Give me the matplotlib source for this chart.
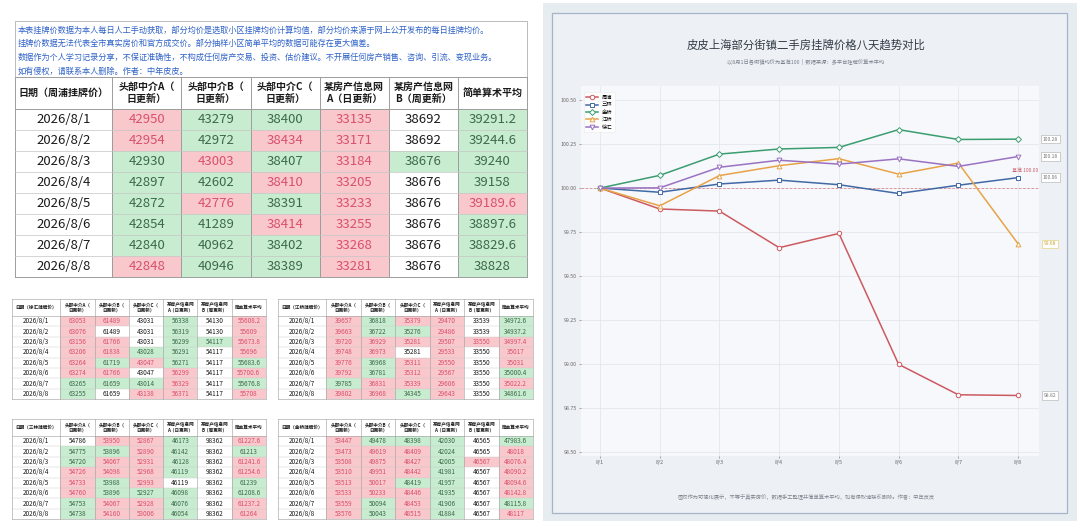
import matplotlib
matplotlib.use('Agg')
import matplotlib.pyplot as plt
from matplotlib.patches import Rectangle

plt.rcParams['font.family'] = ['Noto Sans CJK SC', 'DejaVu Sans']

# ---------------- data ----------------
dates = ['2026/8/1', '2026/8/2', '2026/8/3', '2026/8/4',
         '2026/8/5', '2026/8/6', '2026/8/7', '2026/8/8']
x_labels = ['8/1', '8/2', '8/3', '8/4', '8/5', '8/6', '8/7', '8/8']
source_headers = ['头部中介A（\n日更新）', '头部中介B（\n日更新）', '头部中介C（\n日更新）',
                  '某房产信息网\nA（日更新）', '某房产信息网\nB（周更新）', '简单算术平均']

note_lines = [
    '本表挂牌价数据为本人每日人工手动获取，部分均价是选取小区挂牌均价计算均值，部分均价来源于网上公开发布的每日挂牌均价。',
    '挂牌价数据无法代表全市真实房价和官方成交价。部分抽样小区简单平均的数据可能存在更大偏差。',
    '数据作为个人学习记录分享，不保证准确性，不构成任何房产交易、投资、估价建议。不开展任何房产销售、咨询、引流、变现业务。',
    '如有侵权，请联系本人删除。作者：中年皮皮。',
]

zhoupu_values = [
    [42950, 43279, 38400, 33135, 38692, 39291.2],
    [42954, 42972, 38434, 33171, 38692, 39244.6],
    [42930, 43003, 38407, 33184, 38676, 39240],
    [42897, 42602, 38410, 33205, 38676, 39158],
    [42872, 42776, 38391, 33233, 38676, 39189.6],
    [42854, 41289, 38414, 33255, 38676, 38897.6],
    [42840, 40962, 38402, 33268, 38676, 38829.6],
    [42848, 40946, 38389, 33281, 38676, 38828],
]
zhoupu_colors = ['RGGRWG', 'RGRRWG', 'GRGRGG', 'GGRRWG', 'GRGRWR', 'GGRRWG', 'GGGRWG', 'RGGRWG']

xuhui_values = [
    [63053, 61489, 43031, 56338, 54130, 55608.2],
    [63076, 61489, 43031, 56319, 54130, 55609],
    [63156, 61766, 43031, 56299, 54117, 55673.8],
    [63206, 61838, 43028, 56291, 54117, 55696],
    [63264, 61719, 43047, 56271, 54117, 55683.6],
    [63274, 61766, 43047, 56299, 54117, 55700.6],
    [63265, 61659, 43014, 56329, 54117, 55676.8],
    [63255, 61659, 43138, 56371, 54117, 55708],
]
xuhui_colors = ['RRWGWR', 'RWWGWR', 'RRWGGR', 'RRGGWR', 'RGRGWG', 'RRWRWR', 'GGGRWG', 'GWRRWR']

jiangqiao_values = [
    [39657, 36818, 35379, 29470, 33539, 34972.6],
    [39663, 36722, 35276, 29486, 33539, 34937.2],
    [39720, 36929, 35281, 29507, 33550, 34997.4],
    [39748, 36973, 35281, 29533, 33550, 35017],
    [39776, 36968, 35311, 29550, 33550, 35031],
    [39792, 36781, 35312, 29567, 33550, 35000.4],
    [39785, 36831, 35339, 29606, 33550, 35022.2],
    [39802, 36968, 34345, 29643, 33550, 34861.6],
]
jiangqiao_colors = ['RGRRWG', 'RGGRWG', 'RRRRRR', 'RRWRWR', 'RGRRWR', 'RGRRWG', 'GRRRWR', 'RRGRWG']

sanlin_values = [
    [54786, 53950, 52867, 46173, 98362, 61227.6],
    [54775, 53896, 52890, 46142, 98362, 61213],
    [54720, 54067, 52931, 46128, 98362, 61241.6],
    [54726, 54098, 52968, 46119, 98362, 61254.6],
    [54733, 53988, 52993, 46119, 98362, 61239],
    [54760, 53896, 52927, 46098, 98362, 61208.6],
    [54753, 54067, 52928, 46076, 98362, 61237.2],
    [54738, 54160, 53006, 46054, 98362, 61264],
]
sanlin_colors = ['WRRGWR', 'GGRGWG', 'GRRGWR', 'RRRGWR', 'RGRWWG', 'RGGGWG', 'GRRGWR', 'GRRGWR']

jinqiao_values = [
    [53447, 49478, 48398, 42030, 46565, 47983.6],
    [53473, 49619, 48409, 42024, 46565, 48018],
    [53508, 49875, 48427, 42005, 46567, 48076.4],
    [53510, 49951, 48442, 41981, 46567, 48090.2],
    [53513, 50017, 48419, 41957, 46567, 48094.6],
    [53533, 50233, 48446, 41935, 46567, 48142.8],
    [53559, 50094, 48453, 41906, 46567, 48115.8],
    [53576, 50043, 48515, 41884, 46567, 48117],
]
jinqiao_colors = ['RGGGWG', 'RRRGWR', 'RRRGRR', 'RRRGWR', 'RRGGWR', 'RRRGWR', 'RGRGWG', 'RGRGWR']

# chart: index (8/1 = 100)
series_names = ['周浦', '三林', '金桥', '江桥', '徐汇']
zhoupu_index = [100.0, 99.881, 99.869, 99.661, 99.742, 98.998, 98.825, 98.821]
sanlin_index = [100.0, 99.976, 100.023, 100.045, 100.019, 99.969, 100.016, 100.059]
jinqiao_index = [100.0, 100.072, 100.193, 100.222, 100.231, 100.332, 100.276, 100.278]
jiangqiao_index = [100.0, 99.899, 100.071, 100.127, 100.167, 100.079, 100.142, 99.683]
xuhui_index = [100.0, 100.001, 100.118, 100.158, 100.136, 100.166, 100.123, 100.179]
baseline = 100.0
y_ticks = [98.50, 98.75, 99.00, 99.25, 99.50, 99.75, 100.00, 100.25, 100.50]

chart_title = '皮皮上海部分街镇二手房挂牌价格八天趋势对比'
chart_subtitle = '以8月1日各街镇均价为基准100  |  数据来源：多平台挂牌价算术平均'
chart_footer = '图仅作为可视化展示，不等于真实房价，数据手工整理并简单算术平均，如有侵权请联系删除。作者：中年皮皮'

# ---------------- styles ----------------
W, H = 1080, 528
fig = plt.figure(figsize=(W / 100, H / 100), dpi=100)
fig.patch.set_facecolor('white')

bg = fig.add_axes([0, 0, 1, 1])
bg.set_xlim(0, W)
bg.set_ylim(H, 0)
bg.axis('off')

CELL_BG = {'R': '#f9c8cd', 'G': '#c8ecd0', 'W': '#ffffff'}
CELL_FG = {'R': '#d9506a', 'G': '#3b6a48', 'W': '#1a1a1a'}
COL_FRAC = [0, 0.19, 0.325, 0.46, 0.595, 0.73, 0.865, 1.0]


def fmt(v):
    return ('%.1f' % v).rstrip('0').rstrip('.')


def draw_table(x0, x1, y_top, head_h, row_h, title, values, colors,
               fs_num, fs_head, line_w=0.6):
    xs = [x0 + f * (x1 - x0) for f in COL_FRAC]
    n = len(values)
    y_bottom = y_top + head_h + n * row_h
    bg.add_patch(Rectangle((x0, y_top), x1 - x0, head_h, fc='white', ec='none'))
    bg.text((xs[0] + xs[1]) / 2, y_top + head_h / 2, title, ha='center', va='center',
            fontsize=fs_head, fontweight='bold', color='#1a1a1a')
    for j, h in enumerate(source_headers):
        bg.text((xs[j + 1] + xs[j + 2]) / 2, y_top + head_h / 2, h, ha='center',
                va='center', fontsize=fs_head, fontweight='bold', color='#1a1a1a',
                linespacing=1.25)
    for i in range(n):
        yt = y_top + head_h + i * row_h
        bg.add_patch(Rectangle((xs[0], yt), xs[1] - xs[0], row_h, fc='white', ec='none'))
        bg.text((xs[0] + xs[1]) / 2, yt + row_h / 2, dates[i], ha='center', va='center',
                fontsize=fs_num, color='#1a1a1a')
        for j in range(6):
            c = colors[i][j]
            bg.add_patch(Rectangle((xs[j + 1], yt), xs[j + 2] - xs[j + 1], row_h,
                                   fc=CELL_BG[c], ec='none'))
            bg.text((xs[j + 1] + xs[j + 2]) / 2, yt + row_h / 2, fmt(values[i][j]),
                    ha='center', va='center', fontsize=fs_num, color=CELL_FG[c])
    for xv in xs:
        bg.plot([xv, xv], [y_top, y_bottom], color='#9c9c9c', lw=line_w)
    bg.plot([x0, x1], [y_top, y_top], color='#9c9c9c', lw=line_w)
    bg.plot([x0, x1], [y_top + head_h, y_top + head_h], color='#9c9c9c', lw=line_w)
    for i in range(1, n):
        yv = y_top + head_h + i * row_h
        bg.plot([x0, x1], [yv, yv], color='#c4c4c4', lw=line_w * 0.7)
    bg.plot([x0, x1], [y_bottom, y_bottom], color='#9c9c9c', lw=line_w)


# note box
bg.add_patch(Rectangle((15, 21), 512, 56, fc='white', ec='#b0b0b0', lw=0.6))
for k, ln in enumerate(note_lines):
    bg.text(18, 30 + k * 13.8, ln, ha='left', va='center', fontsize=5.9, color='#2f62c8')

# big table
draw_table(15, 527, 77, 32, 21, '日期（周浦挂牌价）', zhoupu_values, zhoupu_colors,
           fs_num=9.5, fs_head=7.2, line_w=0.7)
# small tables
draw_table(12, 266, 299, 17, 10.4, '日期（徐汇挂牌价）', xuhui_values, xuhui_colors,
           fs_num=4.6, fs_head=3.3, line_w=0.4)
draw_table(278, 533, 299, 17, 10.4, '日期（江桥挂牌价）', jiangqiao_values, jiangqiao_colors,
           fs_num=4.6, fs_head=3.3, line_w=0.4)
draw_table(12, 266, 419, 17, 10.4, '日期（三林挂牌价）', sanlin_values, sanlin_colors,
           fs_num=4.6, fs_head=3.3, line_w=0.4)
draw_table(278, 533, 419, 17, 10.4, '日期（金桥挂牌价）', jinqiao_values, jinqiao_colors,
           fs_num=4.6, fs_head=3.3, line_w=0.4)

# right panel
bg.add_patch(Rectangle((543, 3), 534, 518, fc='#e7ecf1', ec='none'))
bg.add_patch(Rectangle((552, 13), 515, 500, fc='#edf1f5', ec='#a6b3c9', lw=0.9))
bg.text(806, 45, chart_title, ha='center', va='center', fontsize=8.2, color='#333a44')
bg.text(806, 62, chart_subtitle, ha='center', va='center', fontsize=3.8, color='#7a808a')
bg.text(806, 497, chart_footer, ha='center', va='center', fontsize=3.8, color='#80868f')

# ---------------- chart ----------------
px_l, px_r, px_t, px_b = 581, 1039, 86, 456
ax = fig.add_axes([px_l / W, 1 - px_b / H, (px_r - px_l) / W, (px_b - px_t) / H])
ax.set_facecolor('#f6f8fb')
for s in ax.spines.values():
    s.set_visible(False)

series = [zhoupu_index, sanlin_index, jinqiao_index, jiangqiao_index, xuhui_index]
colors = ['#cc5a60', '#4169a6', '#3b9d70', '#e8a348', '#9a72c2']
markers = ['o', 's', 'D', '^', 'v']
msizes = [3.2, 3.0, 3.0, 3.4, 3.4]
xs = list(range(len(x_labels)))
for vals, name, c, m, ms in zip(series, series_names, colors, markers, msizes):
    ax.plot(xs, vals, color=c, lw=1.1, marker=m, markersize=ms, markerfacecolor='white',
            markeredgecolor=c, markeredgewidth=0.7, label=name, zorder=3)

ax.axhline(baseline, color='#d98a8f', lw=0.6, ls=(0, (3, 2)), zorder=2)
ax.text(7.33, baseline + 0.097, '基准 100.00', ha='right', va='center', fontsize=3.6,
        color='#cf5e6c', clip_on=False)

label_text_colors = ['#777777', '#777777', '#777777', '#c9a43a', '#777777']
label_edge_colors = ['#b9b9b9', '#b9b9b9', '#b9b9b9', '#e6d27a', '#b9b9b9']
for vals, tc, ec in zip(series, label_text_colors, label_edge_colors):
    ax.text(7.54, vals[-1], '%.2f' % vals[-1], ha='center', va='center', fontsize=3.6,
            color=tc, clip_on=False, zorder=5,
            bbox=dict(boxstyle='square,pad=0.35', fc='white', ec=ec, lw=0.5))

ax.set_xlim(-0.318, 7.35)
ax.set_ylim(98.477, 100.58)
ax.set_xticks(xs)
ax.set_xticklabels(x_labels)
ax.set_yticks(y_ticks)
ax.set_yticklabels(['%.2f' % v for v in y_ticks])
ax.tick_params(axis='both', labelsize=3.8, colors='#666666', length=1.5, width=0.4, pad=1.5)
ax.grid(True, color='#e0e4ec', lw=0.5)
ax.set_axisbelow(True)

leg = ax.legend(loc='upper left', fontsize=3.8, frameon=True, handlelength=2.2,
                borderpad=0.5, labelspacing=0.45, handletextpad=0.8,
                bbox_to_anchor=(0.0, 0.99))
leg.get_frame().set_facecolor('white')
leg.get_frame().set_edgecolor('#e4e6ea')
leg.get_frame().set_linewidth(0.4)

fig.savefig('out.png', dpi=100)
